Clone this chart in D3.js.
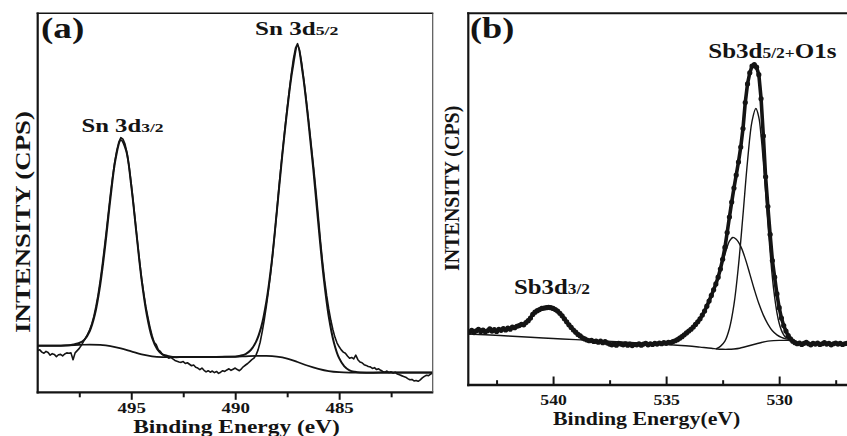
<!DOCTYPE html>
<html>
<head>
<meta charset="utf-8">
<script src="https://cdn.jsdelivr.net/npm/d3@7"></script>
<style>
  html, body { margin: 0; padding: 0; background: #fff; }
  svg { display: block; }
  text { font-family: "Liberation Serif", "Times New Roman", serif; font-weight: bold; fill: #141414; }
</style>
</head>
<body>
<svg id="chart" width="847" height="436"></svg>
<script>
// ---------- Sn 3d spectrum (panel a) ----------
// measured counts on a fixed 0.1 eV grid, from 499.5 eV downwards
const snEnergyStart = 499.5;
const snEnergyStep = 0.1;
const snCounts = [
  110,112,106,103,108,105,
  98,102,100,94,99,100,96,101,104,103,
  104,86,104,110,116,124,134,143,153,165,
  180,200,226,256,292,332,378,425,474,523,
  567,606,637,660,672,668,655,630,594,550,
  500,448,396,346,300,262,226,198,172,150,
  132,126,112,108,100,96,94,90,92,88,
  84,82,80,79,81,76,78,74,70,72,
  66,64,60,64,58,54,57,53,56,52,
  55,50,53,57,55,59,62,58,61,64,
  60,57,62,68,72,76,81,86,90,98,
  112,132,160,192,228,268,312,362,418,476,
  538,595,648,700,750,796,840,880,908,920,
  902,868,826,780,732,682,630,578,522,462,
  400,345,296,255,220,190,165,145,130,120,
  112,106,103,96,90,92,88,98,86,80,
  78,73,71,68,67,63,65,60,62,58,
  55,53,56,52,54,51,53,48,46,44,
  42,40,36,33,34,30,31,29,33,38,
  42,45,44,48,50
];
// fitted envelope
const snFitEnergy = [499.5,499,498.5,498,497.75,497.5,497.25,497,496.75,496.5,496.25,496,495.75,495.5,495.25,495,494.75,494.5,494.25,494,493.75,493.5,493.25,493,492.5,492,491.5,491,490.5,490,489.75,489.5,489.25,489,488.75,488.5,488.25,488,487.75,487.5,487.25,487,486.75,486.5,486.25,486,485.75,485.5,485.25,485,484.75,484.5,484.25,484,483,482,481,480.5];
const snFitCounts = [123,123,123,124,126.5,130,139,161,205,281,388,512,617,666,639,545,419,296,204,144,114,100,96,93,93,93,93,93,93.5,94,96.5,101,111.5,133,172,240,341,476,618,744,850,915,840,725,593,444,306,200,131,90,68.5,58,54,52,52,52,52,52];
// Shirley background
const snBgEnergy = [499.5,499,498.5,498,497.5,497,496.5,496,495.5,495,494.5,494,493.5,493,492,491,490,489.5,489,488.5,488,487.5,487,486.5,486,485.5,485,484.5,484,483,482,481,480.5];
const snBgCounts = [123,123,123,124,125,126,125,122,116,108,100,95,93,93,93,93,94,95,96,96,94,89,80,70,62,56,53,52,52,52,52,52,52];
const snMajorTicks = [495, 490, 485];
const snMinorTicks = [497.5, 492.5, 487.5, 482.5];

// ---------- Sb 3d / O 1s spectrum (panel b) ----------
const sbEnergyStart = 543.7;
const sbEnergyStep = 0.1;
const sbCounts = [
  142,147,141,146,150,144,148,143,
  146,151,145,149,144,150,147,152,148,153,
  150,156,154,158,160,163,162,168,173,180,
  190,196,200,203,206,207,208,209,208,206,
  203,199,193,186,178,170,162,155,148,142,
  136,132,127,124,121,119,120,117,118,115,
  118,114,117,113,110,108,111,107,112,110,
  108,111,107,110,106,109,108,111,107,110,
  112,108,111,109,112,110,113,111,114,112,
  115,114,117,119,122,126,130,135,140,145,
  150,156,163,170,178,188,199,212,226,241,
  256,272,290,312,338,370,410,452,492,530,
  565,600,640,690,760,810,840,858,862,855,
  835,770,670,560,480,405,335,290,245,208,
  180,160,145,133,124,118,114,111,113,109,
  112,115,111,108,112,110,113,109,111,114,
  110,112,108,111,113,110,112,109,111,112
];
// background plus the weak low-energy component
const sbBaseEnergy = [543.75,543,542,541,540,539,538,537,536,535,534.5,534,533.5,533,532.75,532.5,532.25,532,531.75,531.5,531.25,531,530.75,530.5,530.25,530,529.75,529.5];
const sbBaseCounts = [137,135,132,128.5,125,122,119,116,112.5,109,107,105,102,99,97,96,96,97,99,103,107,111,115,118,119.5,120,120,121];
// narrow component near 531.0 eV
const sbPeak1Energy = [532.8,532.6,532.4,532.2,532,531.8,531.6,531.4,531.2,531.03,530.9,530.8,530.7,530.6,530.5,530.4,530.3,530.2,530.1,530,529.9,529.8,529.7,529.6,529.5];
const sbPeak1Counts = [97,104,118,152,216,321,458,602,710,744,720,670,600,519,435,357,289,236,195,166,147,135,128,125,123];
// broad component near 532.1 eV
const sbPeak2Energy = [534.6,534.4,534.2,534,533.8,533.6,533.4,533.2,533,532.8,532.6,532.4,532.2,532.05,531.9,531.7,531.5,531.3,531.1,530.9,530.7,530.5,530.3,530.1,529.9,529.7,529.5];
const sbPeak2Counts = [119.5,125.5,135,145.5,156.5,173.5,190,211,237,268,312,351,387,397,392,373,340,299,257,219,188,164,146,135,128,124,123];
const sbMajorTicks = [540, 535, 530];
const sbMinorTicks = [542.5, 537.5, 532.5, 527.5];

// ---------- drawing ----------
const svg = d3.select("#chart");
const ink = "#141414";

function grid(start, step, n) {
  return d3.range(n).map(i => +(start - i * step).toFixed(2));
}
function zipPoints(energy, counts) {
  return energy.map((e, i) => [e, counts[i]]);
}

// text stretched horizontally along its own baseline
function label(parent, x, y, sx, parts, opts = {}) {
  let tr = `translate(${x},${y})`;
  if (opts.rotate) tr += ` rotate(${opts.rotate})`;
  tr += ` scale(${sx},1)`;
  const t = parent.append("text")
    .attr("transform", tr)
    .attr("text-anchor", opts.anchor || "start");
  parts.forEach(p => t.append("tspan").style("font-size", p.size + "px").text(p.text));
  return t;
}

function panel(cfg) {
  const g = svg.append("g");
  const x = d3.scaleLinear().domain(cfg.domain).range([cfg.left, cfg.right]);
  const y = d3.scaleLinear().domain([0, 1000]).range([cfg.bottom, cfg.top]);

  const clipId = "clip-" + cfg.id;
  svg.append("clipPath").attr("id", clipId)
    .append("rect")
    .attr("x", cfg.left).attr("y", cfg.top)
    .attr("width", cfg.right - cfg.left).attr("height", cfg.bottom - cfg.top);
  const plot = g.append("g").attr("clip-path", `url(#${clipId})`);

  // tick marks and labels
  const major = d3.axisBottom(x).tickValues(cfg.major).tickSize(cfg.majorLen)
    .tickFormat(d3.format("d"));
  const minor = d3.axisBottom(x).tickValues(cfg.minor).tickSize(cfg.minorLen).tickFormat("");
  [minor, major].forEach(ax => {
    const a = g.append("g").attr("transform", `translate(0,${cfg.bottom})`).call(ax);
    a.select(".domain").remove();
    a.selectAll("line").attr("stroke", ink).attr("stroke-width", 2);
    a.selectAll("text")
      .attr("y", cfg.tickLabelOffset).attr("dy", 0)
      .attr("fill", ink)
      .attr("transform", `scale(${cfg.tickStretch},1)`)
      .style("font-size", cfg.tickSize + "px");
  });

  return { g, plot, x, y };
}

// ----- panel (a) -----
const A = panel({
  id: "a", left: 37.7, right: 432.7, top: 13.3, bottom: 392.3,
  domain: [499.5, 480.5],
  major: snMajorTicks, minor: snMinorTicks, majorLen: 7.5, minorLen: 5,
  tickLabelOffset: 20.5, tickStretch: 1.35, tickSize: 14
});
{
  const line = d3.line().x(d => A.x(d[0])).y(d => A.y(d[1]));
  const smooth = d3.line().x(d => A.x(d[0])).y(d => A.y(d[1])).curve(d3.curveCatmullRom.alpha(0.5));
  const snEnergy = grid(snEnergyStart, snEnergyStep, snCounts.length);
  A.plot.append("path").datum(zipPoints(snBgEnergy, snBgCounts))
    .attr("d", smooth).attr("fill", "none").attr("stroke", ink).attr("stroke-width", 1.7);
  A.plot.append("path").datum(zipPoints(snFitEnergy, snFitCounts))
    .attr("d", smooth).attr("fill", "none").attr("stroke", ink).attr("stroke-width", 2);
  A.plot.append("path").datum(zipPoints(snEnergy, snCounts))
    .attr("d", line).attr("fill", "none").attr("stroke", ink).attr("stroke-width", 1.6)
    .attr("stroke-linejoin", "round");

  // frame
  const f = A.g.append("g").attr("stroke", ink).attr("fill", "none");
  f.append("line").attr("x1", 37.7).attr("x2", 37.7).attr("y1", 12.5).attr("y2", 393.4).attr("stroke-width", 2.2);
  f.append("line").attr("x1", 36.6).attr("x2", 433.3).attr("y1", 392.3).attr("y2", 392.3).attr("stroke-width", 2.2);
  f.append("line").attr("x1", 36.6).attr("x2", 433.3).attr("y1", 13.3).attr("y2", 13.3).attr("stroke-width", 1.6);
  f.append("line").attr("x1", 432.7).attr("x2", 432.7).attr("y1", 13.3).attr("y2", 392.3).attr("stroke-width", 1.2).attr("stroke", "#555");

  label(A.g, 41, 38, 1.28, [{ text: "(a)", size: 29 }]);
  label(A.g, 81.5, 132, 1.3, [{ text: "Sn 3d", size: 19 }, { text: "3/2", size: 13.5 }]);
  label(A.g, 255, 35, 1.32, [{ text: "Sn 3d", size: 19 }, { text: "5/2", size: 13.5 }]);
  label(A.g, 236.5, 432.5, 1.3, [{ text: "Binding Energy (eV)", size: 18 }], { anchor: "middle" });
  label(A.g, 29.5, 222, 1.22, [{ text: "INTENSITY (CPS)", size: 22 }], { anchor: "middle", rotate: -90 });
}

// ----- panel (b) -----
const B = panel({
  id: "b", left: 468.3, right: 847, top: 13.3, bottom: 385,
  domain: [543.75, 527.0],
  major: sbMajorTicks, minor: sbMinorTicks, majorLen: -8.5, minorLen: -4.8,
  tickLabelOffset: 20, tickStretch: 1.22, tickSize: 14.5
});
{
  const line = d3.line().x(d => B.x(d[0])).y(d => B.y(d[1]));
  const smooth = d3.line().x(d => B.x(d[0])).y(d => B.y(d[1])).curve(d3.curveCatmullRom.alpha(0.5));
  const sbEnergy = grid(sbEnergyStart, sbEnergyStep, sbCounts.length);
  const pts = zipPoints(sbEnergy, sbCounts);

  // measured points: dense markers joined by a heavy trace
  B.plot.append("path").datum(pts)
    .attr("d", line).attr("fill", "none").attr("stroke", ink).attr("stroke-width", 3.6)
    .attr("stroke-linejoin", "round");
  B.plot.append("g").selectAll("circle").data(pts).join("circle")
    .attr("cx", d => B.x(d[0])).attr("cy", d => B.y(d[1])).attr("r", 2.6).attr("fill", ink);

  [[sbBaseEnergy, sbBaseCounts], [sbPeak2Energy, sbPeak2Counts], [sbPeak1Energy, sbPeak1Counts]]
    .forEach(([e, c]) => {
      B.plot.append("path").datum(zipPoints(e, c))
        .attr("d", smooth).attr("fill", "none").attr("stroke", ink).attr("stroke-width", 1.4);
    });

  const f = B.g.append("g").attr("stroke", ink).attr("fill", "none");
  f.append("line").attr("x1", 468.3).attr("x2", 468.3).attr("y1", 12.3).attr("y2", 386.2).attr("stroke-width", 2.2);
  f.append("line").attr("x1", 467.2).attr("x2", 847).attr("y1", 385).attr("y2", 385).attr("stroke-width", 2.4);
  f.append("line").attr("x1", 467.2).attr("x2", 847).attr("y1", 13.3).attr("y2", 13.3).attr("stroke-width", 2);

  label(B.g, 470, 38, 1.25, [{ text: "(b)", size: 29 }]);
  label(B.g, 708.3, 58.3, 1.25, [{ text: "Sb3d", size: 20 }, { text: "5/2+", size: 14 }, { text: "O1s", size: 20 }]);
  label(B.g, 514, 294.3, 1.24, [{ text: "Sb3d", size: 20 }, { text: "3/2", size: 14 }]);
  label(B.g, 646.7, 425, 1.12, [{ text: "Binding Energy(eV)", size: 19.5 }], { anchor: "middle" });
  label(B.g, 458.5, 188.3, 1.0, [{ text: "INTENSITY (CPS)", size: 20 }], { anchor: "middle", rotate: -90 });
}
</script>
</body>
</html>
